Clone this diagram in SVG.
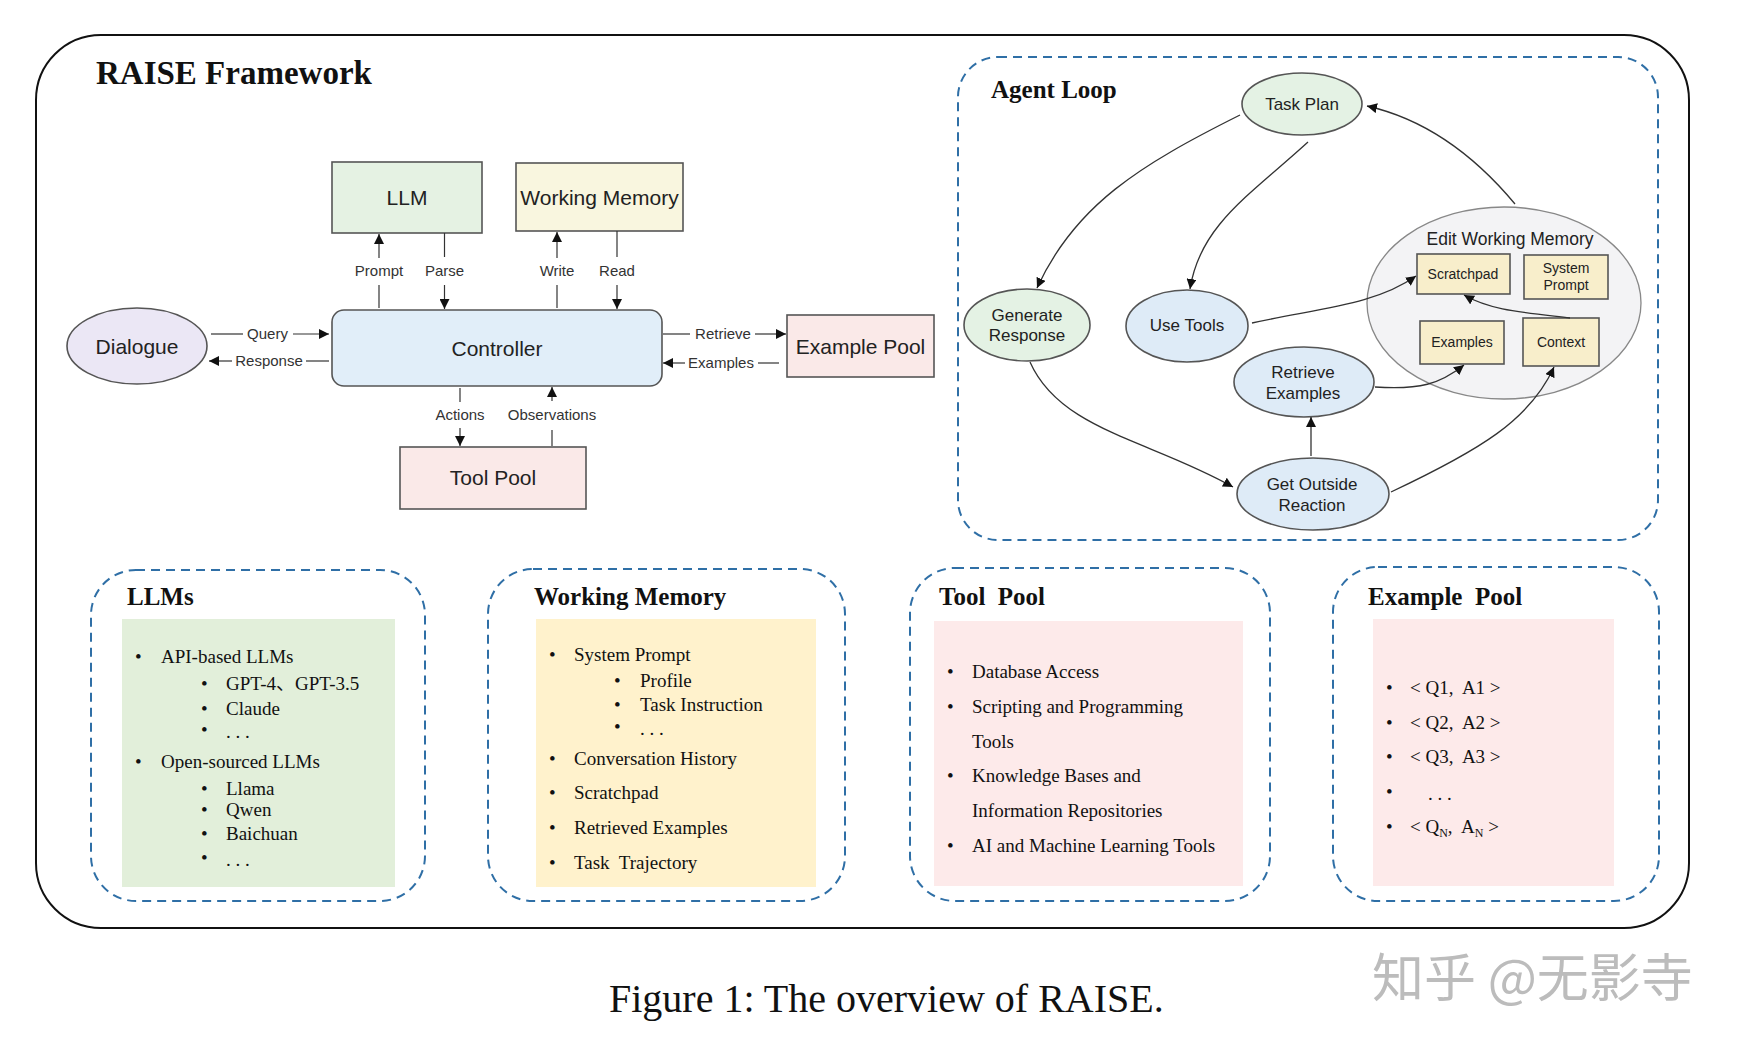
<svg xmlns="http://www.w3.org/2000/svg" width="1738" height="1048" viewBox="0 0 1738 1048">
<style>
.frame{fill:none;stroke:#111;stroke-width:2}
.dash{fill:none;stroke:#2f6fa6;stroke-width:2;stroke-dasharray:9 6}
.box{stroke:#555;stroke-width:1.6}
.ttl{font-family:"Liberation Serif","Times New Roman",serif;font-weight:bold;fill:#111}
.sans{font-family:"Liberation Sans",Arial,sans-serif;fill:#222}
.lbl{font-family:"Liberation Sans",Arial,sans-serif;font-size:15px;fill:#333}
.item{font-family:"Liberation Serif","Noto Sans CJK SC",serif;font-size:19px;fill:#111;white-space:pre}
.c{fill:none;stroke:#333;stroke-width:1.3}
.ca{fill:none;stroke:#333;stroke-width:1.3;marker-end:url(#ah)}
.la{fill:none;stroke:#333;stroke-width:1.2}
.laa{fill:none;stroke:#333;stroke-width:1.2;marker-end:url(#ah)}
</style>
<defs>
<marker id="ah" viewBox="0 0 10 10" refX="10" refY="5" markerWidth="10" markerHeight="10" markerUnits="userSpaceOnUse" orient="auto">
<path d="M0,0 L10,5 L0,10 z" fill="#111"/>
</marker>
</defs>
<rect width="1738" height="1048" fill="#fff"/>

<rect class="frame" x="36" y="35" width="1653" height="893" rx="65" ry="65"/>
<text class="ttl" x="96" y="84" font-size="33">RAISE Framework</text>

<g id="llm"><rect class="box" x="332" y="162" width="150" height="71" fill="#e5f2e3"/><text class="sans" x="407" y="205" font-size="21" text-anchor="middle">LLM</text></g>
<g id="working-memory"><rect class="box" x="516" y="163" width="167" height="68" fill="#f9f6df"/><text class="sans" x="599.5" y="205" font-size="21" text-anchor="middle">Working Memory</text></g>
<g id="controller"><rect class="box" x="332" y="310" width="330" height="76" rx="12" fill="#e1eef9"/><text class="sans" x="497" y="356" font-size="21" text-anchor="middle">Controller</text></g>
<g id="dialogue"><ellipse class="box" cx="137" cy="346" rx="70" ry="38" fill="#ebe7f5"/><text class="sans" x="137" y="354" font-size="21" text-anchor="middle">Dialogue</text></g>
<g id="example-pool"><rect class="box" x="787" y="315" width="147" height="62" fill="#fae9e8"/><text class="sans" x="860.5" y="354" font-size="21" text-anchor="middle">Example Pool</text></g>
<g id="tool-pool"><rect class="box" x="400" y="447" width="186" height="62" fill="#fae9e8"/><text class="sans" x="493" y="485" font-size="21" text-anchor="middle">Tool Pool</text></g>

<g id="connectors-top">
<line class="la" x1="379" y1="308" x2="379" y2="285"/><line class="laa" x1="379" y1="258" x2="379" y2="234"/>
<line class="la" x1="444.5" y1="233" x2="444.5" y2="257"/><line class="laa" x1="444.5" y1="285" x2="444.5" y2="309"/>
<line class="la" x1="557" y1="308" x2="557" y2="285"/><line class="laa" x1="557" y1="258" x2="557" y2="232"/>
<line class="la" x1="617" y1="231" x2="617" y2="257"/><line class="laa" x1="617" y1="285" x2="617" y2="309"/>
<line class="la" x1="211" y1="334" x2="243" y2="334"/><line class="laa" x1="293" y1="334" x2="329" y2="334"/>
<line class="laa" x1="232" y1="361" x2="209" y2="361"/><line class="la" x1="306" y1="361" x2="329" y2="361"/>
<line class="la" x1="663" y1="334" x2="690" y2="334"/><line class="laa" x1="755" y1="334" x2="786" y2="334"/>
<line class="laa" x1="685" y1="363" x2="663" y2="363"/><line class="la" x1="758" y1="363" x2="779" y2="363"/>
<line class="la" x1="460" y1="388" x2="460" y2="402"/><line class="laa" x1="460" y1="428" x2="460" y2="446"/>
<line class="la" x1="552" y1="446" x2="552" y2="430"/><line class="laa" x1="552" y1="401" x2="552" y2="387"/>
<text class="lbl" x="379" y="276" text-anchor="middle">Prompt</text>
<text class="lbl" x="444.5" y="276" text-anchor="middle">Parse</text>
<text class="lbl" x="557" y="276" text-anchor="middle">Write</text>
<text class="lbl" x="617" y="276" text-anchor="middle">Read</text>
<text class="lbl" x="267.5" y="339" text-anchor="middle">Query</text>
<text class="lbl" x="269" y="366" text-anchor="middle">Response</text>
<text class="lbl" x="723" y="339" text-anchor="middle">Retrieve</text>
<text class="lbl" x="721" y="368" text-anchor="middle">Examples</text>
<text class="lbl" x="460" y="420" text-anchor="middle">Actions</text>
<text class="lbl" x="552" y="420" text-anchor="middle">Observations</text>
</g>

<g id="agent-loop">
<rect class="dash" x="958" y="57" width="700" height="483" rx="40"/>
<text class="ttl" x="991" y="98" font-size="25">Agent Loop</text>
</g>
<g id="edit-working-memory"><ellipse cx="1504" cy="303" rx="137" ry="96" fill="#f3f3f5" stroke="#888" stroke-width="1.3"/><text class="sans" x="1510" y="245" font-size="17.5" text-anchor="middle">Edit Working Memory</text></g>
<g id="task-plan"><ellipse class="box" cx="1302" cy="104" rx="60" ry="31" fill="#e4f2e4" stroke-width="1.2"/><text class="sans" x="1302" y="110" font-size="17" text-anchor="middle">Task Plan</text></g>
<g id="generate-response"><ellipse class="box" cx="1027" cy="325" rx="63" ry="36" fill="#e4f2e4" stroke-width="1.2"/><text class="sans" x="1027" y="321" font-size="17" text-anchor="middle">Generate</text><text class="sans" x="1027" y="341" font-size="17" text-anchor="middle">Response</text></g>
<g id="use-tools"><ellipse class="box" cx="1187" cy="326" rx="61" ry="36" fill="#deebf7" stroke-width="1.2"/><text class="sans" x="1187" y="331" font-size="17" text-anchor="middle">Use Tools</text></g>
<g id="retrieve-examples"><ellipse class="box" cx="1304" cy="382" rx="70" ry="35" fill="#deebf7" stroke-width="1.2"/><text class="sans" x="1303" y="378" font-size="17" text-anchor="middle">Retrieve</text><text class="sans" x="1303" y="399" font-size="17" text-anchor="middle">Examples</text></g>
<g id="get-outside-reaction"><ellipse class="box" cx="1313" cy="494" rx="76" ry="36" fill="#deebf7" stroke-width="1.2"/><text class="sans" x="1312" y="490" font-size="17" text-anchor="middle">Get Outside</text><text class="sans" x="1312" y="511" font-size="17" text-anchor="middle">Reaction</text></g>
<g id="scratchpad"><rect class="box" x="1417" y="254" width="93" height="40" fill="#f8eecb" stroke-width="1.3"/><text class="sans" x="1463" y="279" font-size="14" text-anchor="middle">Scratchpad</text></g>
<g id="system-prompt"><rect class="box" x="1524" y="255" width="84" height="44" fill="#f8eecb" stroke-width="1.3"/><text class="sans" x="1566" y="273" font-size="14" text-anchor="middle">System</text><text class="sans" x="1566" y="290" font-size="14" text-anchor="middle">Prompt</text></g>
<g id="examples"><rect class="box" x="1420" y="321" width="84" height="43" fill="#f8eecb" stroke-width="1.3"/><text class="sans" x="1462" y="347" font-size="14" text-anchor="middle">Examples</text></g>
<g id="context"><rect class="box" x="1523" y="318" width="76" height="48" fill="#f8eecb" stroke-width="1.3"/><text class="sans" x="1561" y="347" font-size="14" text-anchor="middle">Context</text></g>

<g id="connectors-loop">
<path class="ca" d="M1240,115 C1140,165 1075,205 1037,288"/>
<path class="ca" d="M1308,142 C1250,195 1200,225 1190,289"/>
<path class="ca" d="M1515,204 C1470,150 1420,118 1367,106"/>
<path class="ca" d="M1252,323 C1320,308 1375,305 1416,276"/>
<path class="ca" d="M1570,318 C1520,312 1490,310 1464,295"/>
<path class="ca" d="M1375,387 C1420,390 1440,384 1464,365"/>
<path class="ca" d="M1030,362 C1060,430 1150,440 1233,487"/>
<path class="ca" d="M1311,456 L1311,417"/>
<path class="ca" d="M1391,492 C1480,450 1530,420 1554,367"/>
</g>

<g id="panel-llms">
<rect class="dash" x="91" y="570" width="334" height="331" rx="45"/>
<text class="ttl" x="127" y="605" font-size="25">LLMs</text>
<rect x="122" y="619" width="273" height="268" fill="#e2efda"/>
<text class="item" x="135" y="663">•</text><text class="item" x="161" y="663">API-based LLMs</text>
<text class="item" x="201" y="690">•</text><text class="item" x="226" y="690">GPT-4、GPT-3.5</text>
<text class="item" x="201" y="715">•</text><text class="item" x="226" y="715">Claude</text>
<text class="item" x="201" y="736">•</text><text class="item" x="226" y="738">. . .</text>
<text class="item" x="135" y="768">•</text><text class="item" x="161" y="768">Open-sourced LLMs</text>
<text class="item" x="201" y="795">•</text><text class="item" x="226" y="795">Llama</text>
<text class="item" x="201" y="816">•</text><text class="item" x="226" y="816">Qwen</text>
<text class="item" x="201" y="840">•</text><text class="item" x="226" y="840">Baichuan</text>
<text class="item" x="201" y="864">•</text><text class="item" x="226" y="866">. . .</text>
</g>

<g id="panel-working-memory">
<rect class="dash" x="488" y="569" width="357" height="332" rx="45"/>
<text class="ttl" x="534" y="605" font-size="25">Working Memory</text>
<rect x="536" y="619" width="280" height="268" fill="#fff2cc"/>
<text class="item" x="549" y="661">•</text><text class="item" x="574" y="661">System Prompt</text>
<text class="item" x="614" y="687">•</text><text class="item" x="640" y="687">Profile</text>
<text class="item" x="614" y="711">•</text><text class="item" x="640" y="711">Task Instruction</text>
<text class="item" x="614" y="733">•</text><text class="item" x="640" y="735">. . .</text>
<text class="item" x="549" y="765">•</text><text class="item" x="574" y="765">Conversation History</text>
<text class="item" x="549" y="799">•</text><text class="item" x="574" y="799">Scratchpad</text>
<text class="item" x="549" y="834">•</text><text class="item" x="574" y="834">Retrieved Examples</text>
<text class="item" x="549" y="869">•</text><text class="item" x="574" y="869">Task  Trajectory</text>
</g>

<g id="panel-tool-pool">
<rect class="dash" x="910" y="568" width="360" height="333" rx="45"/>
<text class="ttl" x="939" y="605" font-size="25" style="white-space:pre">Tool  Pool</text>
<rect x="934" y="621" width="309" height="265" fill="#fdeaea"/>
<text class="item" x="947" y="678">•</text><text class="item" x="972" y="678">Database Access</text>
<text class="item" x="947" y="713">•</text><text class="item" x="972" y="713">Scripting and Programming</text>
<text class="item" x="972" y="748">Tools</text>
<text class="item" x="947" y="782">•</text><text class="item" x="972" y="782">Knowledge Bases and</text>
<text class="item" x="972" y="817">Information Repositories</text>
<text class="item" x="947" y="852">•</text><text class="item" x="972" y="852">AI and Machine Learning Tools</text>
</g>

<g id="panel-example-pool">
<rect class="dash" x="1333" y="567" width="326" height="334" rx="45"/>
<text class="ttl" x="1368" y="605" font-size="25" style="white-space:pre">Example  Pool</text>
<rect x="1373" y="619" width="241" height="267" fill="#fdeaea"/>
<text class="item" x="1386" y="694">•</text><text class="item" x="1410" y="694">&lt; Q1,  A1 &gt;</text>
<text class="item" x="1386" y="729">•</text><text class="item" x="1410" y="729">&lt; Q2,  A2 &gt;</text>
<text class="item" x="1386" y="763">•</text><text class="item" x="1410" y="763">&lt; Q3,  A3 &gt;</text>
<text class="item" x="1386" y="798">•</text><text class="item" x="1428" y="800">. . .</text>
<text class="item" x="1386" y="833">•</text><text class="item" x="1410" y="833">&lt; Q<tspan font-size="12" dy="4">N</tspan><tspan dy="-4">,  A</tspan><tspan font-size="12" dy="4">N</tspan><tspan dy="-4"> &gt;</tspan></text>
</g>

<text x="609" y="1012" font-family="'Liberation Serif','Times New Roman',serif" font-size="40" fill="#111">Figure 1: The overview of RAISE.</text>
<text x="1372" y="997" font-family="'Noto Sans CJK SC',sans-serif" font-size="52" fill="#bcbcbc" style="white-space:pre">知乎 @无影寺</text>
</svg>
